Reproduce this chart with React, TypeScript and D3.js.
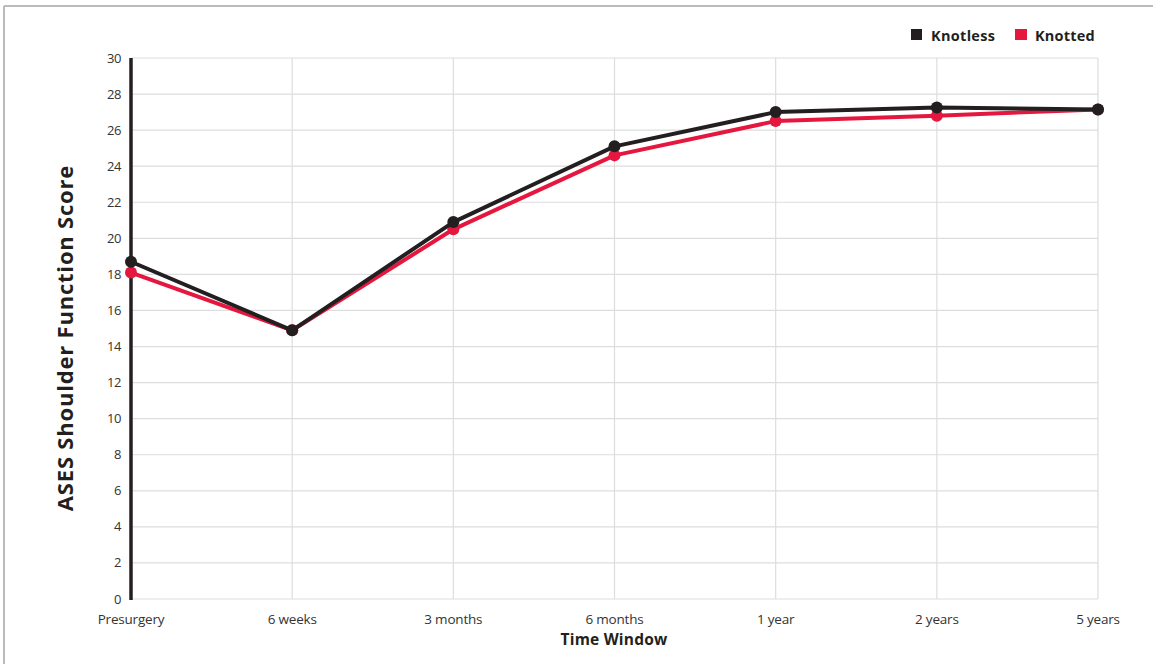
import React from "react";
import * as d3 from "d3";

const categories = ["Presurgery", "6 weeks", "3 months", "6 months", "1 year", "2 years", "5 years"];
const knotless = [18.7, 14.9, 20.9, 25.1, 27.0, 27.25, 27.15];
const knotted = [18.1, 14.9, 20.5, 24.6, 26.5, 26.8, 27.15];
const yTicks = [0, 2, 4, 6, 8, 10, 12, 14, 16, 18, 20, 22, 24, 26, 28, 30];
const seriesNames = ["Knotless", "Knotted"];

const W = 1153, H = 664;
const left = 131, right = 1098, top = 58, bottom = 599;
const BLACK = "#231f20", RED = "#e5173f";
const FONT = "'Open Sans', sans-serif";

export default function App() {
  const x = d3.scalePoint<string>().domain(categories).range([left, right]);
  const y = d3.scaleLinear().domain([0, 30]).range([bottom, top]);
  const line = d3.line<number>().x((_, i) => x(categories[i])!).y((d) => y(d));
  const series = [
    { name: seriesNames[1], data: knotted, color: RED },
    { name: seriesNames[0], data: knotless, color: BLACK },
  ];
  return (
    <svg width={W} height={H} style={{ position: "absolute", left: 0, top: 0, background: "#fff" }} fontFamily={FONT}>
      <rect x={0} y={0} width={W} height={H} fill="#fff" />
      <line x1={4} y1={6} x2={W} y2={6} stroke="#bbbbbb" strokeWidth={2} />
      <line x1={4} y1={6} x2={4} y2={H} stroke="#bbbbbb" strokeWidth={2} />
      {yTicks.map((t) => (
        <g key={t}>
          <line x1={left} x2={right} y1={y(t)} y2={y(t)} stroke="#dddddd" strokeWidth={1.2} />
          <text x={121} y={y(t)} dy="0.35em" textAnchor="end" fontSize={13} fill="#333" letterSpacing={-0.4}>{t}</text>
        </g>
      ))}
      {categories.map((c) => (
        <g key={c}>
          <line x1={x(c)} x2={x(c)} y1={top} y2={bottom} stroke="#dddddd" strokeWidth={1.2} />
          <text x={x(c)} y={624} textAnchor="middle" fontSize={13.5} fill="#333" letterSpacing={-0.2}>{c}</text>
        </g>
      ))}
      <line x1={left} x2={left} y1={top} y2={bottom + 1} stroke={BLACK} strokeWidth={3.5} />
      {series.map((s) => (
        <g key={s.name}>
          <path d={line(s.data) || ""} fill="none" stroke={s.color} strokeWidth={4} strokeLinejoin="round" />
          {s.data.map((v, i) => (
            <circle key={i} cx={x(categories[i])} cy={y(v)} r={6} fill={s.color} />
          ))}
        </g>
      ))}
      <text transform={`translate(73,338) rotate(-90)`} textAnchor="middle" fontSize={22} fontWeight="bold" fill={BLACK} letterSpacing={0.8}>
        ASES Shoulder Function Score
      </text>
      <text x={614} y={645} textAnchor="middle" fontSize={15.5} fontWeight="bold" fill={BLACK} letterSpacing={0.2}>Time Window</text>
      <rect x={911} y={29} width={11} height={11} fill={BLACK} />
      <text x={931} y={40.5} fontSize={14.5} fontWeight="bold" fill={BLACK} letterSpacing={0.3}>{seriesNames[0]}</text>
      <rect x={1015} y={29} width={12} height={11} fill={RED} />
      <text x={1035} y={40.5} fontSize={14.5} fontWeight="bold" fill={BLACK} letterSpacing={0.2}>{seriesNames[1]}</text>
    </svg>
  );
}
